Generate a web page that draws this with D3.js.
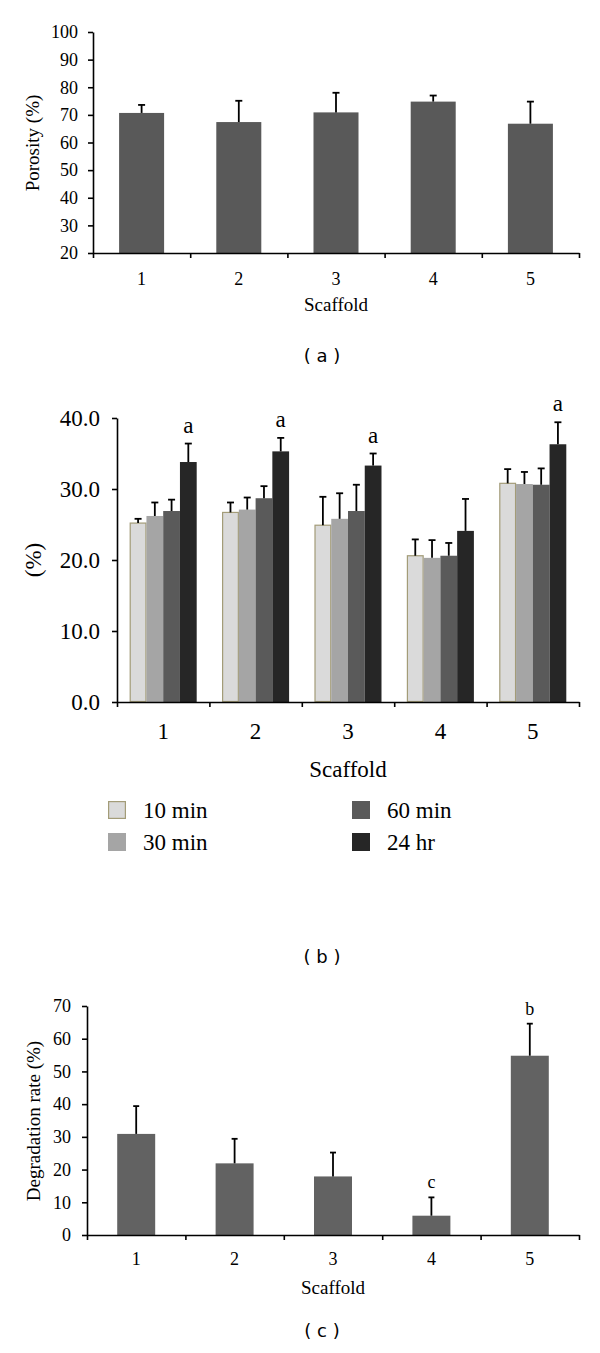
<!DOCTYPE html>
<html>
<head>
<meta charset="utf-8">
<script src="https://cdn.jsdelivr.net/npm/d3@7"></script>
<style>
html,body{margin:0;padding:0;background:#fff;}
svg{display:block;}
</style>
</head>
<body>
<svg id="chart" width="600" height="1353"></svg>
<script>
// ---------- DATA ----------
const scaffolds = ["1", "2", "3", "4", "5"];

// (a) Porosity
const porosity = [70.7, 67.4, 70.9, 74.8, 66.8];
const porosityErr = [2.9, 7.7, 7.1, 2.2, 8.0];
const porosityTicks = [20, 30, 40, 50, 60, 70, 80, 90, 100];

// (b) Swelling / water uptake over time
const timepoints = ["10 min", "30 min", "60 min", "24 hr"];
const swell10 = [25.2, 26.7, 24.9, 20.6, 30.8];
const swell10Err = [0.6, 1.4, 4.0, 2.3, 2.0];
const swell30 = [26.2, 27.1, 25.8, 20.3, 30.7];
const swell30Err = [1.9, 1.7, 3.6, 2.5, 1.7];
const swell60 = [26.9, 28.7, 26.9, 20.6, 30.6];
const swell60Err = [1.6, 1.7, 3.7, 1.8, 2.3];
const swell24 = [33.8, 35.3, 33.3, 24.1, 36.3];
const swell24Err = [2.6, 1.9, 1.7, 4.5, 3.1];
const swellSig = ["a", "a", "a", "", "a"];
const swellTicks = [0, 10, 20, 30, 40];

// (c) Degradation rate
const degradation = [30.9, 21.9, 17.9, 5.9, 54.8];
const degradationErr = [8.5, 7.5, 7.3, 5.6, 9.8];
const degradationSig = ["", "", "", "c", "b"];
const degradationTicks = [0, 10, 20, 30, 40, 50, 60, 70];

// ---------- STYLES ----------
const serif = "'Liberation Serif','Times New Roman',serif";
const sans = "'DejaVu Sans',Verdana,sans-serif";
const timeFill = ["#dadada", "#a5a5a5", "#5a5a5a", "#262626"];
const timeStroke = ["#a39c78", "none", "none", "none"];

const svg = d3.select("#chart");

function styleAxis(g, fontSize) {
  g.selectAll("path,line").attr("stroke", "#000").attr("stroke-width", 1.6);
  g.selectAll("text").attr("font-family", serif).attr("font-size", fontSize).attr("fill", "#000");
}

function drawFrame(o) {
  const y = d3.scaleLinear().domain(o.domain).range([o.yBottom, o.yTop]);
  const xb = d3.scaleBand().domain(scaffolds).range([o.x0, o.x1]).paddingInner(o.pad).paddingOuter(o.pad / 2);
  const xEdge = d3.scaleLinear().domain([0, scaffolds.length]).range([o.x0, o.x1]);

  const gy = svg.append("g").attr("transform", `translate(${o.x0},0)`)
    .call(d3.axisLeft(y).tickValues(o.ticks).tickFormat(o.fmt).tickSize(5).tickSizeOuter(0).tickPadding(o.tickPad));
  styleAxis(gy, o.tickFont);
  const gx = svg.append("g").attr("transform", `translate(0,${o.yBottom})`)
    .call(d3.axisBottom(xEdge).tickValues(d3.range(0, scaffolds.length + 1)).tickFormat("").tickSize(5).tickSizeOuter(0));
  styleAxis(gx, o.tickFont);
  const gl = svg.append("g").attr("transform", `translate(0,${o.yBottom})`)
    .call(d3.axisBottom(xb).tickSize(0).tickPadding(o.xLabelPad));
  gl.select(".domain").remove();
  styleAxis(gl, o.tickFont);

  svg.append("text").attr("x", (o.x0 + o.x1) / 2).attr("y", o.xTitleY)
    .attr("text-anchor", "middle").attr("font-family", serif).attr("font-size", o.titleFont)
    .text("Scaffold");
  svg.append("text").attr("transform", `translate(${o.yTitleX},${o.yTitleY}) rotate(-90)`)
    .attr("text-anchor", "middle").attr("dominant-baseline", "central")
    .attr("font-family", serif).attr("font-size", o.titleFont).text(o.yTitle);
  return { y, xb };
}

function errorBars(g, data, xc, y, cap) {
  g.selectAll("line.v").data(data).join("line")
    .attr("x1", d => xc(d)).attr("x2", d => xc(d))
    .attr("y1", d => y(d.v)).attr("y2", d => y(d.v + d.e))
    .attr("stroke", "#000").attr("stroke-width", 1.8);
  g.selectAll("line.c").data(data).join("line").attr("class", "c")
    .attr("x1", d => xc(d) - cap / 2).attr("x2", d => xc(d) + cap / 2)
    .attr("y1", d => y(d.v + d.e)).attr("y2", d => y(d.v + d.e))
    .attr("stroke", "#000").attr("stroke-width", 1.8);
}

function panelLabel(text, cy) {
  svg.append("text").attr("x", 322).attr("y", cy).attr("text-anchor", "middle")
    .attr("dominant-baseline", "central").attr("font-family", sans).attr("font-size", 18)
    .attr("fill", "#000").attr("xml:space", "preserve").text(text);
}

// ---------- (a) ----------
{
  const { y, xb } = drawFrame({
    x0: 93, x1: 579, yBottom: 253, yTop: 32, domain: [20, 100], ticks: porosityTicks,
    fmt: d3.format("d"), tickFont: 18, titleFont: 19, tickPad: 10, xLabelPad: 19,
    pad: 0.537, yTitle: "Porosity (%)", yTitleX: 32, yTitleY: 143, xTitleY: 311
  });
  const data = scaffolds.map((s, i) => ({ s, v: porosity[i], e: porosityErr[i] }));
  const g = svg.insert("g", ":first-child");
  g.selectAll("rect").data(data).join("rect")
    .attr("x", d => xb(d.s)).attr("width", xb.bandwidth())
    .attr("y", d => y(d.v)).attr("height", d => y(20) - y(d.v))
    .attr("fill", "#595959");
  errorBars(g, data, d => xb(d.s) + xb.bandwidth() / 2, y, 7);
  panelLabel("( a )", 355);
}

// ---------- (b) ----------
{
  const { y, xb } = drawFrame({
    x0: 117, x1: 579, yBottom: 702, yTop: 418, domain: [0, 40], ticks: swellTicks,
    fmt: d3.format(".1f"), tickFont: 23, titleFont: 23, tickPad: 12, xLabelPad: 21,
    pad: 0.275, yTitle: "(%)", yTitleX: 33, yTitleY: 560, xTitleY: 777
  });
  const series = [swell10, swell30, swell60, swell24];
  const errs = [swell10Err, swell30Err, swell60Err, swell24Err];
  const xs = d3.scaleBand().domain(timepoints).range([0, xb.bandwidth()]);
  const data = [];
  scaffolds.forEach((s, i) => timepoints.forEach((t, j) => data.push({ s, t, j, v: series[j][i], e: errs[j][i] })));
  const g = svg.insert("g", ":first-child");
  g.selectAll("rect").data(data).join("rect")
    .attr("x", d => xb(d.s) + xs(d.t) + (d.j === 0 ? 0.5 : 0))
    .attr("width", d => xs.bandwidth() - (d.j === 0 ? 1 : 0))
    .attr("y", d => y(d.v)).attr("height", d => y(0) - y(d.v) - (d.j === 0 ? 0.5 : 0))
    .attr("fill", d => timeFill[d.j]).attr("stroke", d => timeStroke[d.j]).attr("stroke-width", 1.2);
  errorBars(g, data, d => xb(d.s) + xs(d.t) + xs.bandwidth() / 2, y, 7);
  svg.append("g").selectAll("text").data(scaffolds.map((s, i) => ({ s, i })).filter(d => swellSig[d.i]))
    .join("text")
    .attr("x", d => xb(d.s) + xs("24 hr") + xs.bandwidth() / 2)
    .attr("y", d => y(swell24[d.i] + swell24Err[d.i]) - 11)
    .attr("text-anchor", "middle").attr("font-family", serif).attr("font-size", 23)
    .text(d => swellSig[d.i]);
  const legX = [108, 352], legY = [801, 833];
  const lg = svg.append("g").selectAll("g").data(timepoints).join("g")
    .attr("transform", (d, i) => `translate(${legX[Math.floor(i / 2)]},${legY[i % 2]})`);
  lg.append("rect").attr("x", (d, i) => i === 0 ? 0.6 : 0).attr("y", (d, i) => i === 0 ? 0.6 : 0)
    .attr("width", (d, i) => i === 0 ? 16.8 : 18).attr("height", (d, i) => i === 0 ? 16.8 : 18)
    .attr("fill", (d, i) => timeFill[i]).attr("stroke", (d, i) => timeStroke[i]).attr("stroke-width", 1.2);
  lg.append("text").attr("x", 35).attr("y", 17).attr("font-family", serif).attr("font-size", 23)
    .text(d => d);
  panelLabel("( b )", 956);
}

// ---------- (c) ----------
{
  const { y, xb } = drawFrame({
    x0: 87, x1: 579, yBottom: 1235, yTop: 1006, domain: [0, 70], ticks: degradationTicks,
    fmt: d3.format("d"), tickFont: 18, titleFont: 19, tickPad: 11, xLabelPad: 17,
    pad: 0.614, yTitle: "Degradation rate (%)", yTitleX: 33, yTitleY: 1121, xTitleY: 1294
  });
  const data = scaffolds.map((s, i) => ({ s, v: degradation[i], e: degradationErr[i], sig: degradationSig[i] }));
  const g = svg.insert("g", ":first-child");
  g.selectAll("rect").data(data).join("rect")
    .attr("x", d => xb(d.s)).attr("width", xb.bandwidth())
    .attr("y", d => y(d.v)).attr("height", d => y(0) - y(d.v))
    .attr("fill", "#626262");
  errorBars(g, data, d => xb(d.s) + xb.bandwidth() / 2, y, 6);
  svg.append("g").selectAll("text").data(data.filter(d => d.sig)).join("text")
    .attr("x", d => xb(d.s) + xb.bandwidth() / 2)
    .attr("y", d => y(d.v + d.e) - 9)
    .attr("text-anchor", "middle").attr("font-family", serif).attr("font-size", 18)
    .text(d => d.sig);
  panelLabel("( c )", 1330);
}
</script>
</body>
</html>
